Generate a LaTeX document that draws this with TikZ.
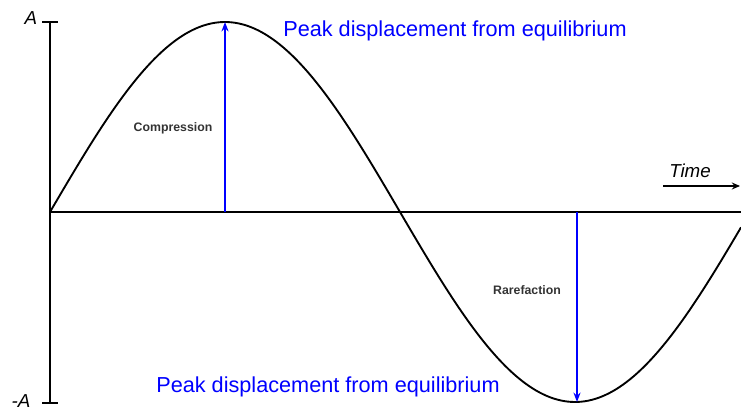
\documentclass[tikz,border=0pt]{standalone}
\usepackage{fontspec}
\setmainfont{Liberation Sans}
\usetikzlibrary{arrows.meta,positioning}

\begin{document}
\begin{tikzpicture}[x=0.03cm,y=0.03cm,>=Stealth,
  ax/.style={line width=1.6pt,black},
  wave/.style={line width=1.6pt,black},
  pk/.style={line width=1.5pt,blue,-{Stealth[length=8pt,width=6pt]}},
  big/.style={text=blue,font=\fontsize{18.5}{22}\selectfont,inner sep=0pt},
  lab/.style={font=\fontsize{10.5}{12}\selectfont\bfseries,text=black!80,inner sep=0pt},
  ital/.style={font=\fontsize{16}{19}\selectfont\itshape,inner sep=0pt}]
\useasboundingbox (0,0) rectangle (741,410);
% axes
\coordinate (o) at (50,198);
\coordinate (top) at (50,388);
\coordinate (bot) at (50,7);
\coordinate (e) at (741,198);
\coordinate (tl) at (42,388);
\coordinate (tr) at (58,388);
\coordinate (bl) at (42,7);
\coordinate (br) at (58,7);
\draw[ax] (top)--(bot);
\draw[ax] (tl)--(tr);
\draw[ax] (bl)--(br);
\draw[ax] (o)--(e);
\node[ital] (a) at (31,392) {A};
\node[ital] (ma) at (21,9) {-A};
% time arrow
\coordinate (t1) at (663,224);
\coordinate (t2) at (740,224);
\draw[line width=1.4pt,-{Stealth[length=7pt,width=6pt]}] (t1)--(t2);
\node[ital] (time) at (690,239) {Time};
% wave
\draw[wave] plot[domain=0:691,samples=200] ({50+\x},{198+190*sin(\x/700*360)});
% peaks
\coordinate (p0) at (225,198);
\coordinate (p1) at (225,388);
\coordinate (q0) at (577,198);
\coordinate (q1) at (577,8);
\draw[pk] (p0)--(p1);
\draw[pk] (q0)--(q1);
\node[big] (ptop) at (455,379) {Peak displacement from equilibrium};
\node[big] (pbot) at (328,23) {Peak displacement from equilibrium};
\node[lab] (c) at (173,282) {Compression};
\node[lab] (r) at (527,120) {Rarefaction};
\end{tikzpicture}
\end{document}
